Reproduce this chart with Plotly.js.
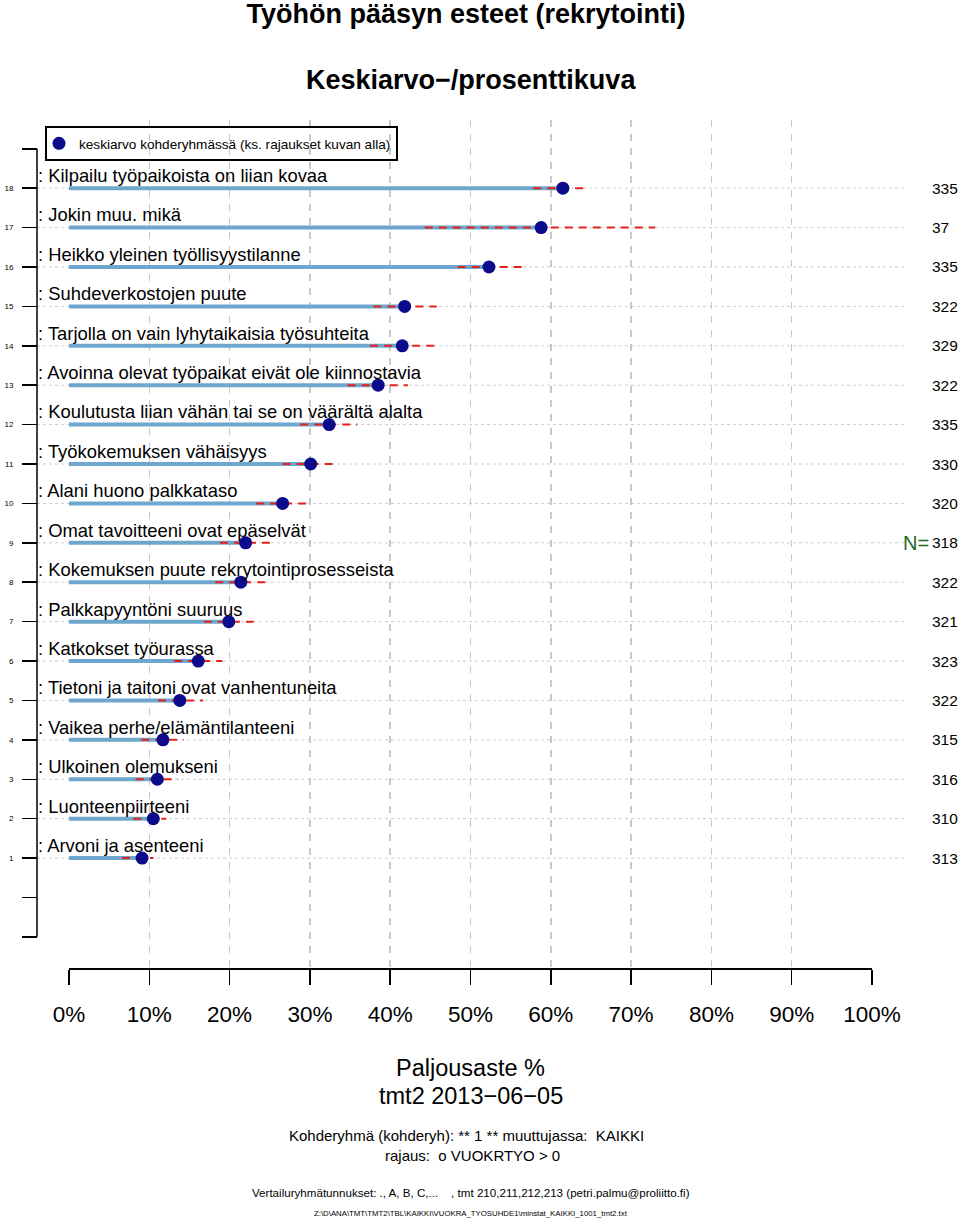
<!DOCTYPE html>
<html><head><meta charset="utf-8">
<script src="https://cdn.plot.ly/plotly-3.0.1.min.js"></script>
<style>body{margin:0;background:#fff}</style>
</head><body><div id="chart" style="width:960px;height:1219px"></div>
<script>
// ---- data (row 1 at the bottom, row 18 at the top) ----
const rows = [1,2,3,4,5,6,7,8,9,10,11,12,13,14,15,16,17,18];
const categories = [
  "Arvoni ja asenteeni",
  "Luonteenpiirteeni",
  "Ulkoinen olemukseni",
  "Vaikea perhe/elämäntilanteeni",
  "Tietoni ja taitoni ovat vanhentuneita",
  "Katkokset työurassa",
  "Palkkapyyntöni suuruus",
  "Kokemuksen puute rekrytointiprosesseista",
  "Omat tavoitteeni ovat epäselvät",
  "Alani huono palkkataso",
  "Työkokemuksen vähäisyys",
  "Koulutusta liian vähän tai se on väärältä alalta",
  "Avoinna olevat työpaikat eivät ole kiinnostavia",
  "Tarjolla on vain lyhytaikaisia työsuhteita",
  "Suhdeverkostojen puute",
  "Heikko yleinen työllisyystilanne",
  "Jokin muu. mikä",
  "Kilpailu työpaikoista on liian kovaa"
];
const means = [9.1,10.5,11.0,11.7,13.8,16.1,19.9,21.4,22.0,26.6,30.1,32.4,38.5,41.5,41.8,52.3,58.8,61.5];
const lower = [6.6,8.0,8.3,9.0,11.1,13.1,16.8,18.2,18.8,23.3,26.6,28.8,34.7,37.5,37.9,48.4,44.3,57.8];
const upper = [10.5,12.1,13.6,14.3,16.7,19.1,23.0,24.7,25.3,30.0,33.5,35.9,42.2,45.5,45.8,56.4,73.0,64.5];
const nValues = [313,310,316,315,322,323,321,322,318,320,330,335,322,329,322,335,37,335];
const xTickVals = [0,10,20,30,40,50,60,70,80,90,100];
const xTickText = ["0%","10%","20%","30%","40%","50%","60%","70%","80%","90%","100%"];
const yTickVals = [-1,0,1,2,3,4,5,6,7,8,9,10,11,12,13,14,15,16,17,18,19];
const yTickText = ["","","1","2","3","4","5","6","7","8","9","10","11","12","13","14","15","16","17","18",""];
const legendLabel = "keskiarvo kohderyhmässä (ks. rajaukset kuvan alla)";
const nRowLabel = 9;

// ---- geometry helpers (pixel -> paper) ----
const W = 960, H = 1219, ML = 5, MR = 5, MT = 120, MB = 251;
const PW = W - ML - MR, PH = H - MT - MB;
const px = v => (v - ML) / PW;
const py = v => (H - MB - v) / PH;

// ---- traces ----
const barX = [], barY = [], ciX = [], ciY = [];
rows.forEach((r, i) => {
  barX.push(0, means[i], null); barY.push(r, r, null);
  ciX.push(lower[i], upper[i], null); ciY.push(r, r, null);
});
const traces = [
  {x: barX, y: barY, mode: 'lines', line: {color: '#6fa6cd', width: 4}, showlegend: false, hoverinfo: 'skip'},
  {x: ciX, y: ciY, mode: 'lines', line: {color: '#e3221c', width: 2, dash: '8px,6px'}, showlegend: false, hoverinfo: 'skip'},
  {x: means, y: rows, mode: 'markers', name: legendLabel, marker: {color: '#0b0b8c', size: 13}}
];

// ---- shapes ----
const shapes = [
  {type: 'line', xref: 'paper', yref: 'y', x0: px(37), x1: px(37), y0: -1, y1: 19, line: {color: '#000', width: 1.5}}
];
rows.forEach(r => shapes.push({type: 'line', layer: 'below', xref: 'paper', yref: 'y', x0: px(37), x1: px(905), y0: r, y1: r,
  line: {color: '#cccccc', width: 1, dash: 'dot'}}));

// ---- annotations ----
const ann = [];
rows.forEach((r, i) => {
  ann.push({xref: 'paper', yref: 'y', x: px(36), y: r + 0.32, xanchor: 'left', yanchor: 'middle', showarrow: false,
    text: ': ' + categories[i], font: {size: 18.4, color: '#000'}});
  ann.push({xref: 'paper', yref: 'y', x: px(930), y: r, xanchor: 'left', yanchor: 'middle', showarrow: false,
    text: String(nValues[i]), font: {size: 15.5, color: '#000'}});
});
ann.push({xref: 'paper', yref: 'y', x: px(931), y: nRowLabel, xanchor: 'right', yanchor: 'middle', showarrow: false,
  text: 'N=', font: {size: 20, color: '#1d6b1d'}});
const txt = (t, y, s, c) => ({xref: 'paper', yref: 'paper', x: px(c || 470.5), y: py(y), xanchor: 'center', yanchor: 'middle', showarrow: false, text: t, font: {size: s, color: '#000'}});
ann.push(txt('<b>Keskiarvo\u2212/prosenttikuva</b>', 80, 27));
ann.push(txt('Paljousaste %', 1068, 23.5));
ann.push(txt('tmt2 2013\u221206\u221205', 1096, 23.5));
ann.push(txt('Kohderyhmä (kohderyh): ** 1 ** muuttujassa:  KAIKKI', 1135, 15, 466));
ann.push(txt('rajaus:  o VUOKRTYO &gt; 0', 1155, 15, 472));
ann.push(txt('Vertailuryhmätunnukset: ., A, B, C,...    , tmt 210,211,212,213 (petri.palmu@proliitto.fi)', 1192, 11.6));
ann.push(txt('Z:\\D\\ANA\\TMT\\TMT2\\TBL\\KAIKKI\\VUOKRA_TYOSUHDE1\\minstat_KAIKKI_1001_tmt2.txt', 1213, 7.8));

const layout = {
  width: W, height: H,
  margin: {l: ML, r: MR, t: MT, b: MB, pad: 0},
  paper_bgcolor: '#fff', plot_bgcolor: 'rgba(0,0,0,0)',
  font: {family: '"Liberation Sans", Arial, Helvetica, sans-serif', color: '#000'},
  title: {text: '<b>Työhön pääsyn esteet (rekrytointi)</b>', font: {size: 27, color: '#000'},
    x: 466 / W, xanchor: 'center', xref: 'container', y: 1 - 14 / H, yanchor: 'middle', yref: 'container'},
  xaxis: {domain: [px(69), px(872)], range: [0, 100], showline: true, linecolor: '#000', linewidth: 1.5,
    ticks: 'outside', ticklen: 15, tickwidth: 1.5, tickcolor: '#000', tickvals: xTickVals, ticktext: xTickText,
    tickfont: {size: 22.5, color: '#000'}, ticklabelstandoff: 10,
    showgrid: true, gridcolor: '#c8c8c8', gridwidth: 1.5, griddash: '7px,7px', zeroline: false, fixedrange: true},
  yaxis: {range: [-1.79, 19.73], anchor: 'free', position: px(37), side: 'left', showline: false, showgrid: false, zeroline: false,
    ticks: 'outside', ticklen: 15, tickwidth: 1.5, tickcolor: '#000', tickvals: yTickVals, ticktext: yTickText,
    tickfont: {size: 8, color: '#000'}, ticklabelstandoff: 7, fixedrange: true},
  showlegend: true,
  legend: {x: px(45), y: py(126), xanchor: 'left', yanchor: 'top', bordercolor: '#000', borderwidth: 2,
    bgcolor: 'rgba(0,0,0,0)', font: {size: 13.6, color: '#000'}, indentation: -8},
  shapes: shapes,
  annotations: ann
};
Plotly.newPlot('chart', traces, layout, {staticPlot: true});
</script>
</body></html>
